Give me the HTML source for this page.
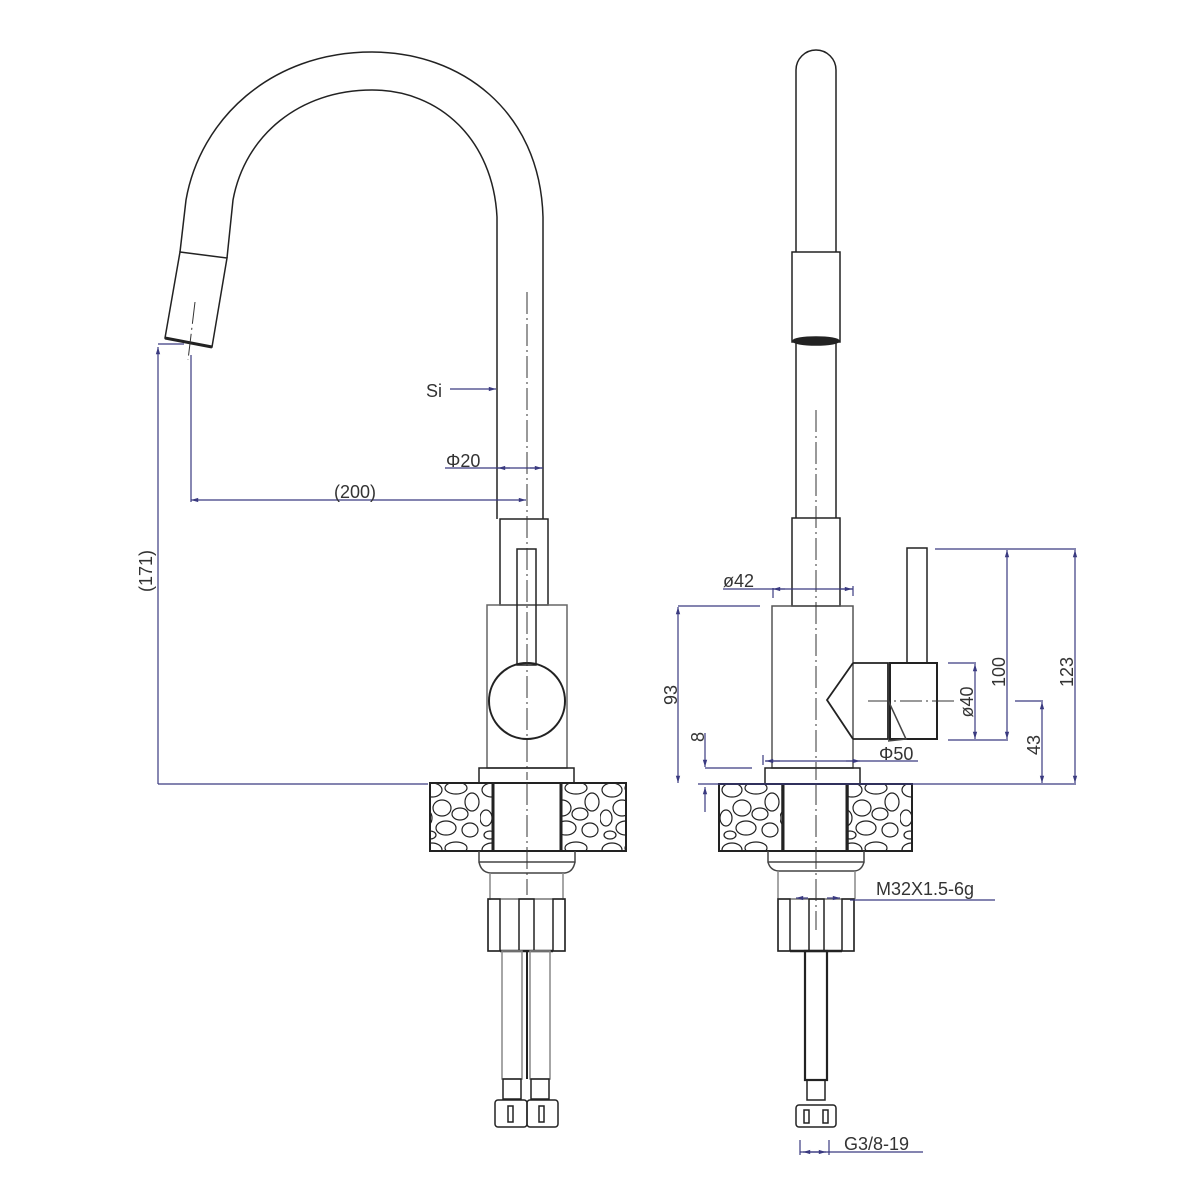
<!DOCTYPE html>
<html><head><meta charset="utf-8"><style>
html,body{margin:0;padding:0;background:#fff}
svg{display:block}
text{font-family:"Liberation Sans",sans-serif;fill:#333}
</style></head><body>
<svg width="1200" height="1200" viewBox="0 0 1200 1200" xmlns="http://www.w3.org/2000/svg">
<defs>
<marker id="a" viewBox="0 0 10 10" refX="10" refY="5" markerWidth="9" markerHeight="6" orient="auto-start-reverse"><path d="M0,2 L10,5 L0,8 z" fill="#3a3a80"/></marker>
<pattern id="st" width="60" height="60" patternUnits="userSpaceOnUse">
<rect width="60" height="60" fill="#fff"/>
<g fill="none" stroke="#222" stroke-width="1.2">
<ellipse cx="12" cy="10" rx="10" ry="7"/><ellipse cx="36" cy="8" rx="11" ry="6"/><ellipse cx="52" cy="22" rx="7" ry="9"/>
<ellipse cx="22" cy="28" rx="9" ry="8"/><ellipse cx="6" cy="38" rx="6" ry="8"/><ellipse cx="40" cy="34" rx="8" ry="6"/>
<ellipse cx="26" cy="48" rx="10" ry="7"/><ellipse cx="50" cy="50" rx="8" ry="7"/><ellipse cx="10" cy="55" rx="6" ry="4"/>
</g></pattern>
</defs>

<g fill="none" stroke="#222" stroke-width="1.5">
<path d="M543,519 L543,217 C540,110 460,52 372,52 C270,52 200,120 186,200 L180,252"/>
<path d="M497,519 L497,217 C493,140 440,90 372,90 C300,90 245,135 233,200 L227,258"/>
<path d="M180,252 L227,258 L212,347 L165,338 Z"/>
<path d="M165,338 L212,347" stroke-width="3"/>
<rect x="500" y="519" width="48" height="86"/>
<rect x="487" y="605" width="80" height="163" stroke="#666"/>
<rect x="517" y="549" width="19" height="116"/>
<circle cx="527" cy="701" r="38" stroke-width="2"/>
<rect x="479" y="768" width="95" height="15"/>
<rect x="430" y="783" width="63" height="68" fill="url(#st)"/>
<rect x="561" y="783" width="65" height="68" fill="url(#st)"/>
<rect x="430" y="783" width="196" height="68" stroke-width="2"/>
<line x1="493" y1="783" x2="493" y2="851" stroke-width="3"/>
<line x1="561" y1="783" x2="561" y2="851" stroke-width="3"/>
<path d="M479,851 L479,862 L575,862 L575,851 M479,862 Q481,872 490,873 L565,873 Q573,872 575,862" stroke="#444"/>
<line x1="490" y1="873" x2="490" y2="900" stroke="#888"/><line x1="563" y1="873" x2="563" y2="900" stroke="#888"/>
<rect x="488" y="899" width="77" height="52" stroke="#777"/>
<rect x="488" y="899" width="12" height="52"/><rect x="519" y="899" width="15" height="52"/><rect x="553" y="899" width="12" height="52"/>
<line x1="500" y1="951" x2="553" y2="951" stroke-width="2.5"/>
<rect x="502" y="951" width="20" height="128" stroke="#888"/><rect x="530" y="951" width="20" height="128" stroke="#888"/>
<line x1="527" y1="951" x2="527" y2="1079" stroke-width="2"/>
<rect x="503" y="1079" width="18" height="20"/><rect x="531" y="1079" width="18" height="20"/>
<rect x="495" y="1100" width="32" height="27" rx="3"/><rect x="527" y="1100" width="31" height="27" rx="3"/>
<rect x="508" y="1106" width="5" height="16"/><rect x="539" y="1106" width="5" height="16"/>

<path d="M796,518 L796,70 A20,20 0 0 1 836,70 L836,518"/>
<rect x="792" y="252" width="48" height="90" fill="#fff"/>
<ellipse cx="816" cy="341" rx="23" ry="4" fill="#222"/>
<rect x="792" y="518" width="48" height="88"/>
<rect x="772" y="606" width="81" height="162" stroke="#555"/>
<rect x="907" y="548" width="20" height="115"/>
<rect x="890" y="663" width="47" height="76" stroke-width="2"/>
<path d="M853,663 L888,663 L888,739 L853,739 M853,663 L827,700 L853,739" stroke-width="1.8"/>
<path d="M888,700 L906,739 L888,741" stroke="#444"/>
<rect x="765" y="768" width="95" height="16"/>
<rect x="719" y="784" width="63" height="67" fill="url(#st)"/>
<rect x="848" y="784" width="64" height="67" fill="url(#st)"/>
<rect x="719" y="784" width="193" height="67" stroke-width="2"/>
<line x1="783" y1="784" x2="783" y2="851" stroke-width="3"/>
<line x1="847" y1="784" x2="847" y2="851" stroke-width="3"/>
<path d="M768,851 L768,862 L864,862 L864,851 M768,862 Q770,870 778,871 L855,871 Q862,870 864,862" stroke="#444"/>
<line x1="778" y1="871" x2="778" y2="899" stroke="#888"/><line x1="855" y1="871" x2="855" y2="899" stroke="#888"/>
<rect x="778" y="899" width="76" height="52" stroke="#777"/>
<rect x="778" y="899" width="12" height="52"/><rect x="809" y="899" width="15" height="52"/><rect x="842" y="899" width="12" height="52"/>
<line x1="790" y1="951" x2="842" y2="951" stroke-width="2.5"/>
<rect x="805" y="951" width="22" height="129" stroke-width="2.2"/>
<rect x="807" y="1080" width="18" height="20"/>
<rect x="796" y="1105" width="40" height="22" rx="3"/>
<rect x="804" y="1110" width="5" height="13"/><rect x="823" y="1110" width="5" height="13"/>
</g>

<g stroke="#333" stroke-width="1" stroke-dasharray="22,4,2,4" fill="none">
<line x1="527" y1="292" x2="527" y2="780"/>
<line x1="527" y1="783" x2="527" y2="895"/>
<line x1="816" y1="410" x2="816" y2="780"/>
<line x1="816" y1="783" x2="816" y2="930"/>
<line x1="195" y1="302" x2="188" y2="360"/>
<line x1="868" y1="701" x2="955" y2="701"/>
</g>

<g stroke="#3a3a80" stroke-width="1.2" fill="none">
<line x1="158" y1="784" x2="158" y2="347" marker-end="url(#a)"/>
<line x1="158" y1="344" x2="184" y2="344"/>
<line x1="158" y1="784" x2="428" y2="784"/>
<line x1="191" y1="355" x2="191" y2="502"/>
<line x1="191" y1="500" x2="526" y2="500" marker-start="url(#a)" marker-end="url(#a)"/>
<line x1="450" y1="389" x2="496" y2="389" marker-end="url(#a)"/>
<line x1="445" y1="468" x2="543" y2="468"/>
<line x1="510" y1="468" x2="498" y2="468" marker-end="url(#a)"/>
<line x1="530" y1="468" x2="542" y2="468" marker-end="url(#a)"/>
<line x1="723" y1="589" x2="853" y2="589"/>
<line x1="785" y1="589" x2="773" y2="589" marker-end="url(#a)"/>
<line x1="840" y1="589" x2="852" y2="589" marker-end="url(#a)"/>
<line x1="773" y1="588" x2="773" y2="598"/><line x1="853" y1="586" x2="853" y2="596"/>
<line x1="678" y1="606" x2="760" y2="606"/>
<line x1="678" y1="783" x2="678" y2="607" marker-start="url(#a)" marker-end="url(#a)"/>
<line x1="698" y1="784" x2="1076" y2="784"/>
<line x1="705" y1="733" x2="705" y2="767" marker-end="url(#a)"/>
<line x1="705" y1="768" x2="752" y2="768"/>
<line x1="705" y1="787" x2="705" y2="812" marker-start="url(#a)"/>
<line x1="765" y1="761" x2="918" y2="761"/>
<line x1="780" y1="761" x2="766" y2="761" marker-end="url(#a)"/>
<line x1="846" y1="761" x2="860" y2="761" marker-end="url(#a)"/>
<line x1="763" y1="755" x2="763" y2="765"/>
<line x1="935" y1="549" x2="1076" y2="549"/>
<line x1="948" y1="663" x2="976" y2="663"/>
<line x1="948" y1="740" x2="1008" y2="740"/>
<line x1="975" y1="664" x2="975" y2="739" marker-start="url(#a)" marker-end="url(#a)"/>
<line x1="1007" y1="550" x2="1007" y2="739" marker-start="url(#a)" marker-end="url(#a)"/>
<line x1="1075" y1="550" x2="1075" y2="783" marker-start="url(#a)" marker-end="url(#a)"/>
<line x1="1015" y1="701" x2="1043" y2="701"/>
<line x1="1042" y1="702" x2="1042" y2="783" marker-start="url(#a)" marker-end="url(#a)"/>
<line x1="850" y1="900" x2="995" y2="900"/>
<line x1="796" y1="898" x2="808" y2="898" marker-start="url(#a)"/>
<line x1="827" y1="898" x2="840" y2="898" marker-end="url(#a)"/>
<line x1="800" y1="1152" x2="923" y2="1152"/>
<line x1="800" y1="1140" x2="800" y2="1155"/><line x1="829" y1="1140" x2="829" y2="1155"/>
<line x1="803" y1="1152" x2="826" y2="1152" marker-start="url(#a)" marker-end="url(#a)"/>
</g>

<g font-size="18">
<text x="426" y="397">Si</text>
<text x="446" y="467">Φ20</text>
<text x="334" y="498">(200)</text>
<text transform="translate(152,571) rotate(-90)" text-anchor="middle">(171)</text>
<text x="723" y="587">ø42</text>
<text transform="translate(677,695) rotate(-90)" text-anchor="middle">93</text>
<text transform="translate(704,737) rotate(-90)" text-anchor="middle">8</text>
<text x="879" y="760">Φ50</text>
<text transform="translate(973,702) rotate(-90)" text-anchor="middle">ø40</text>
<text transform="translate(1005,672) rotate(-90)" text-anchor="middle">100</text>
<text transform="translate(1073,672) rotate(-90)" text-anchor="middle">123</text>
<text transform="translate(1040,745) rotate(-90)" text-anchor="middle">43</text>
<text x="876" y="895">M32X1.5-6g</text>
<text x="844" y="1150">G3/8-19</text>
</g>
</svg>
</body></html>
